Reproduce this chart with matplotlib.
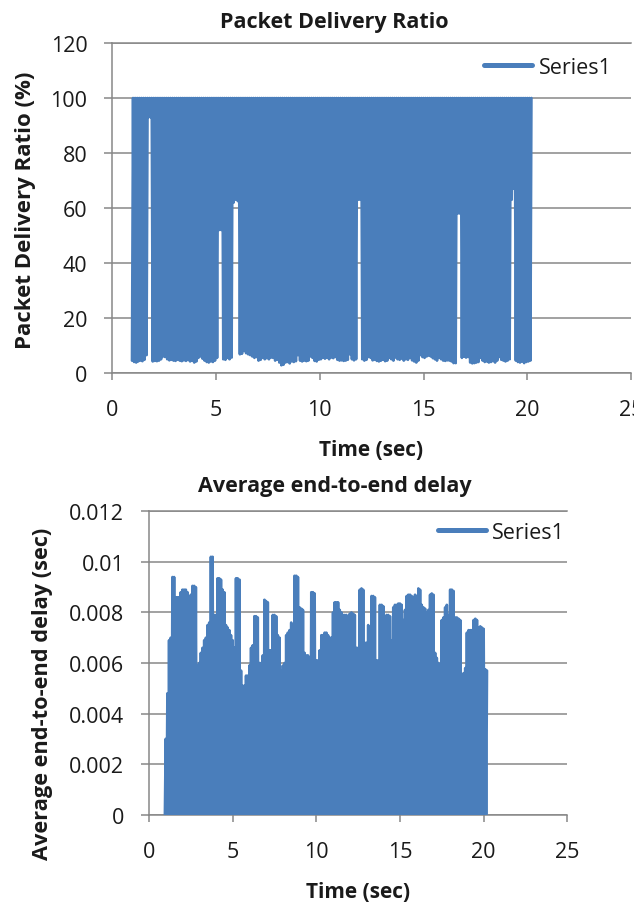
import numpy as np
import matplotlib
matplotlib.use('Agg')
import matplotlib.pyplot as plt
from matplotlib.lines import Line2D
from matplotlib.patches import Rectangle

# ---------------- data ----------------
time_start = 0.95      # s, first sample
time_step = 0.1        # s, sample spacing

# Packet delivery ratio: the series swings between a trough and ~100 % each step
pdr_peak = 100.0
pdr_low = [
    4.5, 4.0, 3.8, 4.2, 4.5, 4.3, 4.8, 6.5, 93.0, 93.0,
    4.2, 4.4, 4.3, 4.5, 5.0, 6.0, 5.8, 5.0, 4.6, 4.8,
    4.5, 4.4, 4.8, 4.5, 4.3, 4.6, 4.4, 4.7, 4.2, 4.4,
    3.8, 4.2, 5.5, 6.0, 5.2, 4.5, 4.0, 3.8, 4.2, 4.0,
    4.5, 5.5, 52.0, 52.0, 5.0, 4.8, 5.5, 5.0, 5.6, 62.0,
    63.0, 62.5, 6.8, 7.0, 8.0, 7.2, 6.8, 6.5, 6.0, 5.5,
    5.8, 4.5, 4.8, 5.5, 5.0, 5.4, 5.0, 5.6, 5.5, 4.5,
    4.8, 3.8, 2.8, 3.0, 3.8, 4.0, 3.5, 4.2, 4.0, 4.3,
    6.5, 4.5, 4.2, 4.5, 4.3, 4.5, 6.0, 5.5, 4.4, 4.2,
    4.8, 5.0, 5.5, 5.2, 5.5, 5.0, 5.6, 5.4, 5.8, 4.8,
    4.5, 4.6, 4.4, 4.5, 4.8, 6.8, 5.0, 4.6, 5.0, 63.0,
    63.0, 5.0, 4.5, 4.8, 5.8, 5.5, 4.6, 4.8, 4.4, 4.2,
    4.5, 4.8, 4.3, 4.5, 5.5, 5.0, 4.5, 5.6, 5.0, 4.8,
    5.2, 4.5, 5.0, 4.8, 5.5, 4.6, 4.2, 3.8, 4.5, 6.5,
    5.8, 5.5, 6.0, 6.3, 6.0, 5.4, 5.0, 4.5, 5.5, 5.0,
    4.5, 4.4, 4.6, 4.5, 4.2, 3.6, 3.6, 58.0, 58.0, 5.5,
    6.0, 5.6, 5.8, 3.8, 3.5, 3.6, 3.8, 4.0, 5.5, 4.5,
    4.0, 4.2, 3.8, 4.0, 4.3, 3.8, 4.5, 5.8, 4.8, 4.5,
    4.2, 4.5, 5.0, 63.0, 67.0, 4.5, 4.0, 3.8, 4.2, 3.6,
    4.0, 4.2, 4.5,
]

# Average end-to-end delay: swings between 0 and a peak (values in ms)
delay_low_ms = 0.0
delay_peak_ms = [
    3.0, 4.8, 6.9, 7.0, 9.4, 9.4, 8.6, 8.6, 8.6, 8.8,
    8.9, 8.9, 8.9, 8.8, 8.6, 8.7, 9.05, 9.05, 9.0, 5.9,
    6.0, 6.4, 6.6, 6.9, 7.0, 7.5, 7.6, 10.2, 10.2, 7.9,
    7.9, 9.35, 9.35, 9.3, 8.9, 8.8, 7.5, 7.4, 7.3, 7.1,
    6.9, 6.6, 9.35, 9.35, 9.3, 5.7, 5.1, 5.1, 5.5, 5.5,
    5.9, 6.6, 6.7, 7.85, 7.85, 7.8, 6.0, 6.0, 6.3, 8.5,
    8.45, 8.4, 6.5, 6.5, 7.9, 7.9, 7.85, 7.1, 7.0, 5.7,
    5.9, 6.0, 7.1, 7.2, 7.3, 7.6, 7.4, 9.45, 9.45, 9.4,
    8.2, 8.15, 8.1, 6.4, 6.3, 6.3, 6.2, 8.8, 8.8, 8.75,
    6.1, 6.1, 6.5, 7.1, 7.1, 7.2, 7.2, 7.1, 7.0, 7.0,
    8.0, 8.4, 8.4, 8.4, 8.1, 8.0, 7.9, 7.9, 7.9, 6.9,
    7.95, 8.0, 7.95, 7.9, 6.6, 6.6, 8.9, 8.95, 8.9, 6.8,
    6.8, 7.5, 7.3, 8.65, 8.65, 8.6, 6.1, 6.1, 8.3, 8.3,
    8.25, 7.3, 7.9, 7.9, 7.85, 6.9, 8.2, 8.3, 8.3, 8.35,
    8.35, 8.3, 7.7, 8.1, 8.65, 8.7, 8.7, 8.65, 8.6, 8.7,
    8.65, 8.95, 8.9, 8.3, 8.2, 8.15, 8.0, 8.1, 8.7, 8.75,
    8.7, 6.4, 6.2, 6.0, 5.2, 7.7, 7.8, 8.2, 8.3, 7.9,
    8.9, 8.9, 8.85, 7.8, 7.8, 7.75, 7.7, 5.5, 5.6, 5.8,
    7.2, 7.3, 7.3, 7.3, 7.7, 7.75, 7.7, 7.4, 7.45, 7.4,
    7.35, 5.75, 5.7,
]

x_ticks = [0, 5, 10, 15, 20, 25]
pdr_yticks = [0, 20, 40, 60, 80, 100, 120]
delay_yticks = [0, 0.002, 0.004, 0.006, 0.008, 0.01, 0.012]
delay_yticklabels = ['0', '0.002', '0.004', '0.006', '0.008', '0.01', '0.012']
series_name = 'Series1'

# ---------------- figure ----------------
W, H = 644, 904
fig = plt.figure(figsize=(W / 100, H / 100), dpi=100)
BLUE = '#4A7EBB'
GRAY = '#878787'
TXT = '#1a1a1a'
plt.rcParams['font.family'] = ['Open Sans', 'DejaVu Sans']
LW = 1.9


def fx(px):
    return px / W


def fy(py):
    return 1 - py / H


def zigzag(low, high):
    n = len(high) if np.ndim(high) else len(low)
    t = time_start + time_step * np.arange(n)
    x = np.empty(2 * n)
    y = np.empty(2 * n)
    x[0::2] = t
    x[1::2] = t + time_step / 2
    y[0::2] = low
    y[1::2] = high
    return x, y


def style(ax, ymax, yticks, ylabels):
    ax.set_xlim(0, 25)
    ax.set_ylim(0, ymax)
    ax.set_xticks(x_ticks)
    ax.set_yticks(yticks)
    ax.set_yticklabels(ylabels)
    for s in ['top', 'right']:
        ax.spines[s].set_visible(False)
    for s in ['left', 'bottom']:
        ax.spines[s].set_color(GRAY)
        ax.spines[s].set_linewidth(1.1)
    ax.grid(axis='y', color=GRAY, lw=1.1)
    ax.axhline(ymax, color=GRAY, lw=1.1, clip_on=False, zorder=0.5)
    ax.set_axisbelow(True)
    ax.tick_params(axis='x', direction='out', length=5.2, width=1.1,
                   color=GRAY, pad=13.5, labelsize=15.5, labelcolor=TXT)
    ax.tick_params(axis='y', direction='out', length=5.9, width=1.1,
                   color=GRAY, pad=12, labelsize=15.5, labelcolor=TXT)


# ---- top: packet delivery ratio ----
ax1 = fig.add_axes([fx(112.3), fy(374), fx(631) - fx(112.3), (374 - 44) / H])
x1, y1 = zigzag(pdr_low, pdr_peak)
ax1.plot(x1, y1, color=BLUE, lw=LW, solid_joinstyle='round',
         solid_capstyle='round', zorder=3)
style(ax1, 120, pdr_yticks, [str(v) for v in pdr_yticks])

# ---- bottom: average end-to-end delay ----
ax2 = fig.add_axes([fx(149), fy(815.7), fx(567.3) - fx(149), (815.7 - 512.3) / H])
x2, y2 = zigzag(delay_low_ms, delay_peak_ms)
ax2.plot(x2, y2 * 1e-3, color=BLUE, lw=LW, solid_joinstyle='round',
         solid_capstyle='round', zorder=3)
style(ax2, 0.012, delay_yticks, delay_yticklabels)

# ---- titles and axis labels ----
fig.text(fx(334), fy(22.5), 'Packet Delivery Ratio', ha='center', va='center',
         fontsize=15.5, fontweight='bold', color=TXT)
fig.text(fx(371.5), fy(451), 'Time (sec)', ha='center', va='center',
         fontsize=15, fontweight='bold', color=TXT)
fig.text(fx(26), fy(210), 'Packet Delivery Ratio (%)', ha='center', va='center',
         rotation=90, fontsize=16, fontweight='bold', color=TXT)

fig.text(fx(335), fy(486.7), 'Average end-to-end delay', ha='center', va='center',
         fontsize=15.5, fontweight='bold', color=TXT)
fig.text(fx(358), fy(892.5), 'Time (sec)', ha='center', va='center',
         fontsize=15, fontweight='bold', color=TXT)
fig.text(fx(43), fy(693.5), 'Average end-to-end delay (sec)', ha='center', va='center',
         rotation=90, fontsize=15.7, fontweight='bold', color=TXT)

# ---- legends ----
for ax, x0, yc in [(ax1, 484.0, 68.3), (ax2, 437.5, 533.3)]:
    h = Line2D([], [], color=BLUE, lw=3.6, solid_capstyle='round')
    ax.legend([h], [series_name], loc='center left',
              bbox_to_anchor=(fx(x0), fy(yc)), bbox_transform=fig.transFigure,
              frameon=False, fontsize=15.5, handlelength=2.25, handletextpad=0.3,
              borderpad=0, borderaxespad=0, labelcolor=TXT)

# the top chart's area ends just right of its last x label (label is cut off)
fig.add_artist(Rectangle((fx(633.5), fy(430)), fx(W) - fx(633.5), (430 - 390) / H,
                         transform=fig.transFigure, facecolor='white',
                         edgecolor='none', zorder=20))

fig.savefig('out.png', dpi=100)
